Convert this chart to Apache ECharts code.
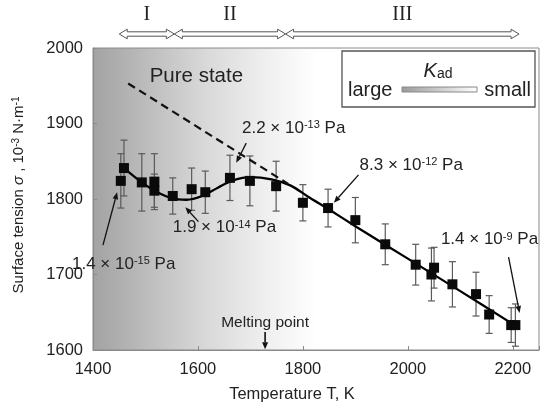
<!DOCTYPE html>
<html><head><meta charset="utf-8">
<script src="https://cdn.jsdelivr.net/npm/echarts@6/dist/echarts.min.js"></script>
<style>html,body{margin:0;padding:0;background:#fff}#c{width:542px;height:410px}</style>
</head><body><div id="c"></div>
<script>
// ---- data ----
const temps = [1453, 1459, 1493, 1517, 1517, 1552, 1588, 1614, 1661, 1699, 1749, 1800, 1848, 1900, 1957, 2015, 2045, 2050, 2085, 2130, 2155, 2197, 2205];
const sigma = [1824, 1841, 1822, 1823, 1811, 1804, 1813, 1809, 1828, 1824, 1817, 1795, 1788, 1772, 1740, 1713, 1700, 1709, 1687, 1674, 1647, 1633, 1633];
const errs  = [36, 37, 38, 37, 22, 24, 28, 28, 30, 33, 33, 24, 25, 30, 27, 27, 35, 27, 30, 29, 25, 23, 28];
const fitT = [1459, 1495, 1520, 1550, 1578, 1608, 1638, 1668, 1700, 1740, 1776, 1810, 1850, 1900, 2000, 2100, 2210];
const fitS = [1841, 1821, 1810, 1801, 1799, 1804, 1815, 1825, 1829, 1826, 1818, 1803, 1786, 1764, 1721, 1678, 1630];
const pureT = [1467, 1772];
const pureS = [1953, 1820];
const regionStart = [1450, 1555, 1767];
const regionEnd = [1555, 1767, 2212];
const regionLabels = ['I', 'II', 'III'];
const xTicks = [1400, 1600, 1800, 2000, 2200];
const yTicks = [1600, 1700, 1800, 1900, 2000];
const meltingT = 1728;

const FONT = 'Liberation Sans, Arial, sans-serif';
const chart = echarts.init(document.getElementById('c'), null, {renderer: 'canvas'});

const regionData = regionStart.map((s, i) => [s, regionEnd[i], i]);

chart.setOption({
  animation: false,
  grid: {
    left: 93, right: 1, top: 48, bottom: 60,
    show: true, borderColor: '#8a8a8a', borderWidth: 1,
    backgroundColor: {type: 'linear', x: 0, y: 0, x2: 1, y2: 0, colorStops: [
      {offset: 0, color: '#a2a2a2'}, {offset: 0.12, color: '#bcbcbc'}, {offset: 0.25, color: '#d8d8d8'},
      {offset: 0.38, color: '#eeeeee'}, {offset: 0.5, color: '#ffffff'}, {offset: 1, color: '#ffffff'}]}
  },
  xAxis: {
    type: 'value', min: 1400, max: 2250, interval: 200,
    axisLine: {show: true, lineStyle: {color: '#8a8a8a', width: 1}},
    axisTick: {show: true, inside: true, length: 4, lineStyle: {color: '#8a8a8a'}},
    splitLine: {show: false},
    axisLabel: {fontSize: 16.5, color: '#222', fontFamily: FONT, margin: 11,
      formatter: v => xTicks.includes(v) ? String(v) : ''}
  },
  yAxis: {
    type: 'value', min: 1600, max: 2000, interval: 100,
    axisLine: {show: true, lineStyle: {color: '#8a8a8a', width: 1}},
    axisTick: {show: true, inside: true, length: 4, lineStyle: {color: '#8a8a8a'}},
    splitLine: {show: false},
    axisLabel: {fontSize: 16.5, color: '#222', fontFamily: FONT, margin: 10,
      formatter: v => yTicks.includes(v) ? String(v) : ''}
  },
  series: [
    {
      type: 'custom', name: 'err', z: 2,
      data: temps.map((t, i) => [t, sigma[i], errs[i]]),
      renderItem: (params, api) => {
        const x = api.value(0), y = api.value(1), e = api.value(2);
        const top = api.coord([x, y + e]), bot = api.coord([x, y - e]);
        const cw = 3.5, st = {stroke: '#5a5a5a', lineWidth: 1.2};
        return {type: 'group', children: [
          {type: 'line', shape: {x1: top[0], y1: top[1], x2: bot[0], y2: bot[1]}, style: st},
          {type: 'line', shape: {x1: top[0] - cw, y1: top[1], x2: top[0] + cw, y2: top[1]}, style: st},
          {type: 'line', shape: {x1: bot[0] - cw, y1: bot[1], x2: bot[0] + cw, y2: bot[1]}, style: st}
        ]};
      }
    },
    {
      type: 'line', name: 'fit', z: 3, smooth: 0.35, showSymbol: false,
      data: fitT.map((t, i) => [t, fitS[i]]),
      lineStyle: {color: '#000', width: 2.3}
    },
    {
      type: 'line', name: 'pure', z: 3, showSymbol: false,
      data: pureT.map((t, i) => [t, pureS[i]]),
      lineStyle: {color: '#111', width: 2.2, type: [8, 5]}
    },
    {
      type: 'scatter', name: 'pts', z: 4, symbol: 'rect', symbolSize: 10,
      data: temps.map((t, i) => [t, sigma[i]]),
      itemStyle: {color: '#0a0a0a', opacity: 1}
    },
    {
      type: 'custom', name: 'regions', z: 5, clip: false,
      data: regionData,
      renderItem: (params, api) => {
        const x1 = api.coord([api.value(0), 2000])[0];
        const x2 = api.coord([api.value(1), 2000])[0];
        const y = params.coordSys.y - 14;
        const h = 2.2, H = 4.8, L = 8;
        const pts = [[x1, y], [x1 + L, y - H], [x1 + L, y - h], [x2 - L, y - h], [x2 - L, y - H], [x2, y],
          [x2 - L, y + H], [x2 - L, y + h], [x1 + L, y + h], [x1 + L, y + H]];
        return {type: 'group', children: [
          {type: 'polygon', shape: {points: pts}, style: {fill: '#fff', stroke: '#555', lineWidth: 1}},
          {type: 'text', style: {text: regionLabels[api.value(2)], x: (x1 + x2) / 2, y: y - 19,
            align: 'center', verticalAlign: 'middle', fontSize: 20, fontFamily: 'Liberation Serif, Times New Roman, serif', fill: '#222'}}
        ]};
      }
    }
  ]
});

// ---- annotations (anchored in data coordinates) ----
const supText = (main, sup, tail) => `{n|${main}}{s|${sup}}{n|${tail}}`;
const annRich = {
  n: {fontSize: 17, fontFamily: FONT, fill: '#222'},
  s: {fontSize: 11, fontFamily: FONT, fill: '#222', verticalAlign: 'top'}
};
const annotations = [
  {text: supText('2.2 × 10', '-13', ' Pa'), at: [1684, 1894], from: [1692, 1874], to: [1673, 1848]},
  {text: supText('1.9 × 10', '-14', ' Pa'), at: [1552, 1762], from: [1601, 1770], to: [1576, 1789]},
  {text: supText('1.4 × 10', '-15', ' Pa'), at: [1360, 1714], from: [1419, 1739], to: [1446, 1809]},
  {text: supText('8.3 × 10', '-12', ' Pa'), at: [1908, 1845], from: [1906, 1832], to: [1859, 1795]},
  {text: supText('1.4 × 10', '-9', ' Pa'), at: [2063, 1746], from: [2192, 1723], to: [2213, 1649]}
];

function arrow(p1, p2, L, W, lw) {
  const dx = p2[0] - p1[0], dy = p2[1] - p1[1];
  const len = Math.hypot(dx, dy), ux = dx / len, uy = dy / len;
  const bx = p2[0] - ux * L, by = p2[1] - uy * L;
  return [
    {type: 'line', z: 100, shape: {x1: p1[0], y1: p1[1], x2: bx, y2: by}, style: {stroke: '#111', lineWidth: lw || 1.3}},
    {type: 'polygon', z: 100, shape: {points: [[p2[0], p2[1]], [bx - uy * W, by + ux * W], [bx + uy * W, by - ux * W]]}, style: {fill: '#111'}}
  ];
}
const px = v => chart.convertToPixel({gridIndex: 0}, v);
const g = [];
annotations.forEach(a => {
  const p = px(a.at);
  g.push({type: 'text', z: 100, x: p[0], y: p[1], style: {text: a.text, rich: annRich, align: 'left', verticalAlign: 'middle'}});
  g.push(...arrow(px(a.from), px(a.to), 7, 2.8));
});
// Pure state
const ps = px([1508, 1962]);
g.push({type: 'text', z: 100, x: ps[0], y: ps[1], style: {text: 'Pure state', fontSize: 20.5, fontFamily: FONT, fill: '#222', align: 'left', verticalAlign: 'middle'}});
// Melting point
const mp = px([meltingT, 1636]);
g.push({type: 'text', z: 100, x: mp[0], y: mp[1], style: {text: 'Melting point', fontSize: 15.5, fontFamily: FONT, fill: '#222', align: 'center', verticalAlign: 'middle'}});
g.push(...arrow(px([meltingT, 1624]), px([meltingT, 1601]), 7, 3, 1.6));
// Axis names
g.push({type: 'text', z: 100, x: 292, y: 394, style: {text: 'Temperature T, K', fontSize: 16.5, fontFamily: FONT, fill: '#222', align: 'center', verticalAlign: 'middle'}});
g.push({type: 'text', z: 100, x: 19, y: 195, rotation: Math.PI / 2, style: {
  text: '{n|Surface tension }{i|σ}{n| , 10}{s|-3}{n| N·m}{s|-1}',
  align: 'center', verticalAlign: 'middle',
  rich: {
    n: {fontSize: 15, fontFamily: FONT, fill: '#222'},
    i: {fontSize: 15, fontFamily: FONT, fontStyle: 'italic', fill: '#222'},
    s: {fontSize: 10, fontFamily: FONT, fill: '#222', verticalAlign: 'top'}
  }}});
// K_ad legend box
g.push({type: 'rect', z: 100, shape: {x: 342, y: 51, width: 193, height: 56}, style: {fill: '#fff', stroke: '#555', lineWidth: 1.3}});
g.push({type: 'text', z: 101, x: 438, y: 71, style: {
  text: '{k|K}{a|ad}', align: 'center', verticalAlign: 'middle',
  rich: {k: {fontSize: 20, fontStyle: 'italic', fontFamily: FONT, fill: '#222'},
         a: {fontSize: 14, fontFamily: FONT, fill: '#222', verticalAlign: 'bottom'}}}});
g.push({type: 'text', z: 101, x: 348, y: 90, style: {text: 'large', fontSize: 20, fontFamily: FONT, fill: '#222', align: 'left', verticalAlign: 'middle'}});
g.push({type: 'text', z: 101, x: 531, y: 90, style: {text: 'small', fontSize: 20, fontFamily: FONT, fill: '#222', align: 'right', verticalAlign: 'middle'}});
g.push({type: 'rect', z: 101, shape: {x: 402, y: 87, width: 75, height: 5}, style: {
  fill: {type: 'linear', x: 0, y: 0, x2: 1, y2: 0, colorStops: [{offset: 0, color: '#9a9a9a'}, {offset: 1, color: '#ffffff'}]},
  stroke: '#888', lineWidth: 1}});
chart.setOption({graphic: g});
</script></body></html>
